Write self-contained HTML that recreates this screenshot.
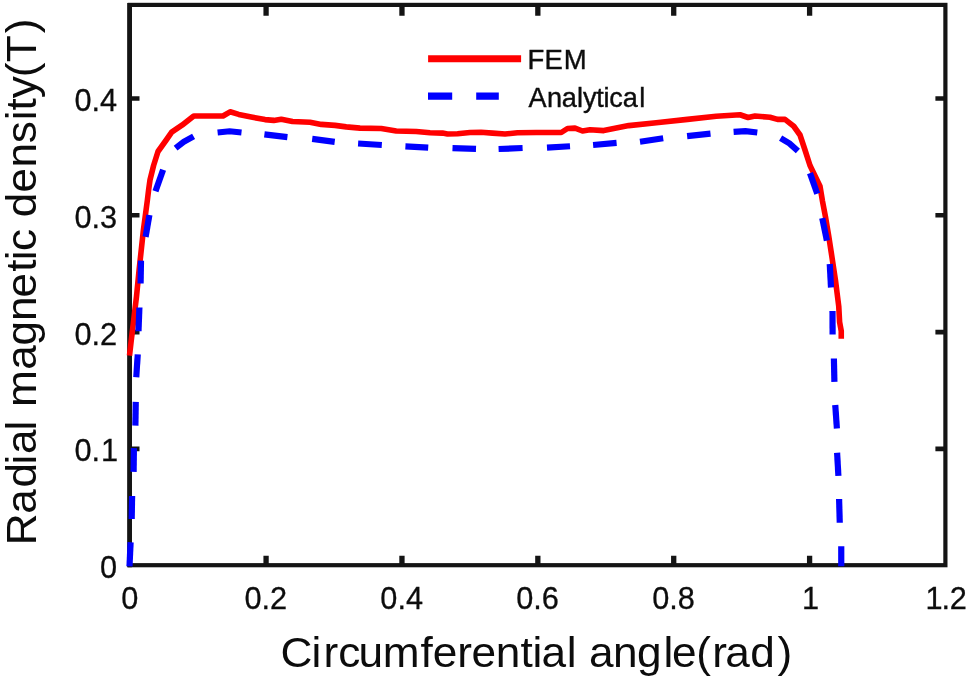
<!DOCTYPE html>
<html lang="en"><head><meta charset="utf-8"><title>Radial magnetic density</title>
<style>
html,body{margin:0;padding:0;background:#fff}
svg{display:block;font-family:"Liberation Sans",sans-serif;fill:#0c0c0c}
</style></head><body>
<svg width="968" height="680" viewBox="0 0 968 680">
<rect x="0" y="0" width="968" height="680" fill="#fff"/>
<rect x="129.8" y="4.9" width="815.60" height="560.30" fill="none" stroke="#141414" stroke-width="4.2"/>
<path d="M266.08,565.2V555.7M266.08,4.9V15.8M401.96,565.2V555.7M401.96,4.9V15.8M537.84,565.2V555.7M537.84,4.9V15.8M673.72,565.2V555.7M673.72,4.9V15.8M809.60,565.2V555.7M809.60,4.9V15.8" fill="none" stroke="#141414" stroke-width="5.3"/>
<path d="M129.8,448.90H139.5M945.4,448.90H935.4M129.8,332.10H139.5M945.4,332.10H935.4M129.8,215.30H139.5M945.4,215.30H935.4M129.8,98.50H139.5M945.4,98.50H935.4" fill="none" stroke="#141414" stroke-width="4.6"/>
<path d="M129.55,3.00V567.30" fill="none" stroke="#141414" stroke-width="4.7"/>
<g font-size="30.7" text-anchor="middle" stroke="#111" stroke-width="0.3">
<text x="129.80" y="609.3">0</text>
<text x="265.73" y="609.3">0.2</text>
<text x="401.67" y="609.3">0.4</text>
<text x="537.60" y="609.3">0.6</text>
<text x="673.54" y="609.3">0.8</text>
<text x="810.47" y="609.3">1</text>
<text x="925.6 941.5 949.7" y="609.3" text-anchor="start">1.2</text>
</g>
<g font-size="30.7" text-anchor="end" stroke="#111" stroke-width="0.3">
<text x="117.2" y="578.20">0</text>
<text x="74.5 91.6 100.9" y="461.40" text-anchor="start">0.1</text>
<text x="117.2" y="344.60">0.2</text>
<text x="117.2" y="227.80">0.3</text>
<text x="117.2" y="111.00">0.4</text>
</g>
<text transform="translate(0,667.2) scale(1.0425,1)" x="268.98 298.72 310.23 324.52 343.90 367.21 403.28 415.08 438.68 452.39 475.51 499.40 510.91 519.45 543.62 553.12 565.11 588.04 610.96 636.48 644.73 667.94 683.29 695.57 719.65 745.74" y="0" font-size="42.4">Circumferential angle(rad)</text>
<text transform="translate(35.6,545) rotate(-90) scale(1.0425,1)" font-size="42.4" x="-0.29 30.03 55.06 77.32 87.39 109.84 119.33 132.38 168.07 191.28 214.97 237.42 262.07 273.20 282.03 303.23 314.35 338.24 362.22 385.44 407.50 416.90 428.51 448.65 463.04 490.86" y="0">Radial magnetic density(T)</text>
<polyline points="129.50,355.60 131.00,342.50 132.50,330.00 136.50,296.50 139.10,270.00 143.40,230.00 147.40,200.00 148.60,190.00 150.00,180.00 153.60,165.50 158.00,151.50 166.25,140.00 171.70,132.10 182.00,125.20 193.75,116.00 223.00,116.00 230.10,111.80 238.75,114.40 252.50,117.25 265.00,119.60 273.75,120.40 281.25,119.20 292.50,121.50 310.00,122.20 321.25,124.40 335.00,125.40 346.25,126.90 360.00,128.10 381.25,128.50 396.25,131.00 416.25,131.50 430.00,132.75 442.50,133.10 447.50,134.00 457.50,133.75 470.00,132.50 481.00,132.25 492.50,133.10 505.00,134.00 517.50,132.75 536.25,132.50 561.25,132.50 567.50,128.50 575.00,128.10 582.50,131.00 590.00,129.75 603.75,130.60 628.75,125.60 656.25,122.75 687.50,119.40 716.25,116.25 740.00,114.75 748.10,117.50 755.00,116.00 770.00,117.25 777.50,119.40 785.00,119.40 793.75,126.25 800.00,135.00 805.00,150.00 810.00,165.50 820.00,186.25 822.50,201.25 825.60,217.50 828.75,236.25 831.25,252.50 835.60,281.25 838.75,306.25 839.60,322.00 841.25,331.00 841.25,338.75" fill="none" stroke="#ff0000" stroke-width="5.6" stroke-linejoin="round"/>
<g fill="none" stroke="#0000ff" stroke-width="6.2">
<polyline points="129.50,566.30 130.60,542.25"/>
<polyline points="131.70,519.00 132.10,496.00"/>
<polyline points="133.60,471.90 133.90,448.10"/>
<polyline points="135.40,425.60 135.75,401.90"/>
<polyline points="136.25,377.25 137.75,354.40"/>
<polyline points="138.50,331.25 139.40,307.50"/>
<polyline points="140.60,283.50 141.00,260.60"/>
<polyline points="145.60,236.90 149.40,215.00"/>
<polyline points="155.50,191.25 163.10,169.70"/>
<polyline points="175.60,148.10 183.75,141.90 193.60,136.40"/>
<polyline points="217.60,132.50 229.60,131.25 241.50,132.50"/>
<polyline points="264.40,134.30 287.40,137.10"/>
<polyline points="312.20,138.90 334.70,141.90"/>
<polyline points="358.10,143.50 381.80,145.00"/>
<polyline points="405.40,146.40 428.20,147.70"/>
<polyline points="452.50,148.10 476.00,148.90"/>
<polyline points="498.60,149.00 522.60,148.00"/>
<polyline points="547.00,147.70 570.00,146.25"/>
<polyline points="593.10,145.00 616.60,142.90"/>
<polyline points="640.00,141.70 663.20,138.30"/>
<polyline points="687.10,136.10 710.50,133.60"/>
<polyline points="733.60,131.90 745.50,131.10 757.30,132.50"/>
<polyline points="780.60,138.10 789.50,143.40 797.90,151.00"/>
<polyline points="810.00,173.10 817.25,193.75"/>
<polyline points="822.25,218.10 826.90,240.60"/>
<polyline points="829.75,264.00 831.00,287.50"/>
<polyline points="832.50,310.90 832.60,334.40"/>
<polyline points="833.90,358.50 834.40,381.90"/>
<polyline points="835.25,405.00 836.90,428.50"/>
<polyline points="837.10,452.75 838.40,475.90"/>
<polyline points="839.10,499.00 839.75,522.75"/>
<polyline points="841.25,546.25 841.25,566.30"/>
</g>
<line x1="428.1" y1="58.7" x2="521.1" y2="58.7" stroke="#ff0000" stroke-width="7"/>
<path d="M428,96.1h24.2M476.2,96.1h22.6" stroke="#0000ff" stroke-width="7.2" fill="none"/>
<text x="527.4 544.5 563.7" y="69.2" font-size="27.5" stroke="#111" stroke-width="0.4">FEM</text>
<text x="528.6 547.0 561.7 577.1 582.9 596.2 603.6 609.3 622.7 639.2" y="107" font-size="27.1" stroke="#111" stroke-width="0.4">Analytical</text>
</svg></body></html>
